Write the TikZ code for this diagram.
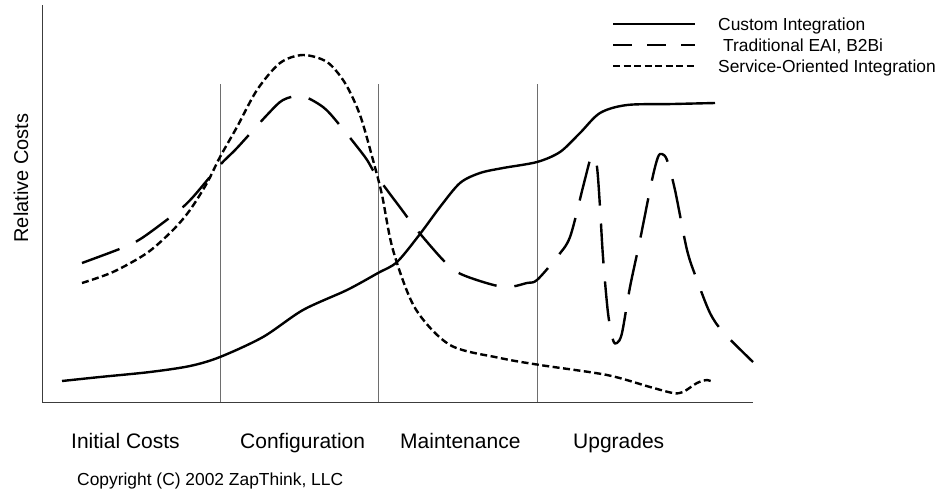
\documentclass[tikz,border=0pt]{standalone}
\usepackage{fontspec}
\usepackage{tikz}
\usepackage{xcolor}
\setmainfont{Liberation Sans}
\definecolor{costink}{RGB}{0,0,0}
\definecolor{costgrid}{RGB}{110,110,110}
\definecolor{costaxis}{RGB}{60,60,60}

\begin{document}
\begin{tikzpicture}[
    x=1pt, y=-1pt,
    curve/.style={costink, line width=2.4pt, smooth},
    custom/.style={curve},
    eai/.style={curve, dash pattern=on 40pt off 18pt},
    soa/.style={curve, dash pattern=on 7pt off 3.5pt},
    divider/.style={costgrid, line width=0.9pt},
    axisline/.style={costaxis, line width=1pt},
    phase/.style={font=\fontsize{21pt}{25pt}\selectfont, anchor=base west, inner sep=0pt},
    legtext/.style={font=\fontsize{17.4pt}{21pt}\selectfont, anchor=base west, inner sep=0pt},
]
  \useasboundingbox (0,0) rectangle (947,490);
  \coordinate (top) at (42,5);
  \coordinate (origin) at (42,402);
  \coordinate (right) at (753,402);
  \coordinate (d1top) at (220,84);
  \coordinate (d2top) at (378,84);
  \coordinate (d3top) at (537,84);
  \draw[axisline] (top) -- (origin) -- (right);
  \draw[divider] (d1top) -- (d1top |- origin);
  \draw[divider] (d2top) -- (d2top |- origin);
  \draw[divider] (d3top) -- (d3top |- origin);
  \draw[custom] plot coordinates {(62,381) (100,377) (150,372) (190,366) (220,357) (263,337) (303,310) (347,290) (378,273) (397,262) (420,234) (440,207) (460,183) (480,173) (503,168) (537,162) (560,152) (580,133) (600,113) (627,105) (673,104) (715,103)};
  \draw[eai] plot coordinates {(82,263) (122,248) (142,238) (177,212) (193,197) (220,165) (237,148) (267,115) (283,100) (302,96) (323,107) (338,123) (365,157) (376,175) (402,210) (417,230) (445,262) (463,275) (503,287) (527,283) (537,280) (557,257) (570,237) (583,187) (590,160) (593,156) (597,167) (600,207) (603,257) (608,313) (613,340) (617,343) (622,333) (630,287) (640,240) (652,180) (658,157) (662,154) (667,160) (675,190) (687,250) (697,280) (710,313) (723,332) (753,362)};
  \draw[soa] plot coordinates {(82,283) (113,272) (147,253) (173,230) (190,210) (207,183) (220,157) (237,127) (257,90) (280,63) (303,55) (327,62) (345,83) (360,115) (373,160) (382,195) (393,250) (415,308) (450,345) (500,358) (540,365) (607,375) (650,387) (673,393) (683,392) (697,383) (707,380) (713,382)};
  \node[rotate=90, font=\fontsize{20pt}{24pt}\selectfont, inner sep=0pt] (ylabel) at (21,178) {Relative Costs};
  \node[phase] (initial) at (71,448) {Initial Costs};
  \node[phase] (config) at (240,448) {Configuration};
  \node[phase] (maint) at (400,448) {Maintenance};
  \node[phase] (upgr) at (573,448) {Upgrades};
  \node[legtext] (copyr) at (77,485) {Copyright (C) 2002 ZapThink, LLC};
  \coordinate (l1a) at (613,24);
  \coordinate (l1b) at (695,24);
  \coordinate (l2a) at (613,45);
  \coordinate (l2b) at (695,45);
  \coordinate (l3a) at (613,66);
  \coordinate (l3b) at (695,66);
  \draw[custom] (l1a) -- (l1b);
  \draw[curve, dash pattern=on 19pt off 15pt] (l2a) -- (l2b);
  \draw[soa] (l3a) -- (l3b);
  \node[legtext] (leg1) at (718,30) {Custom Integration};
  \node[legtext] (leg2) at (723,51) {Traditional EAI, B2Bi};
  \node[legtext] (leg3) at (718,72) {Service-Oriented Integration};
\end{tikzpicture}
\end{document}
